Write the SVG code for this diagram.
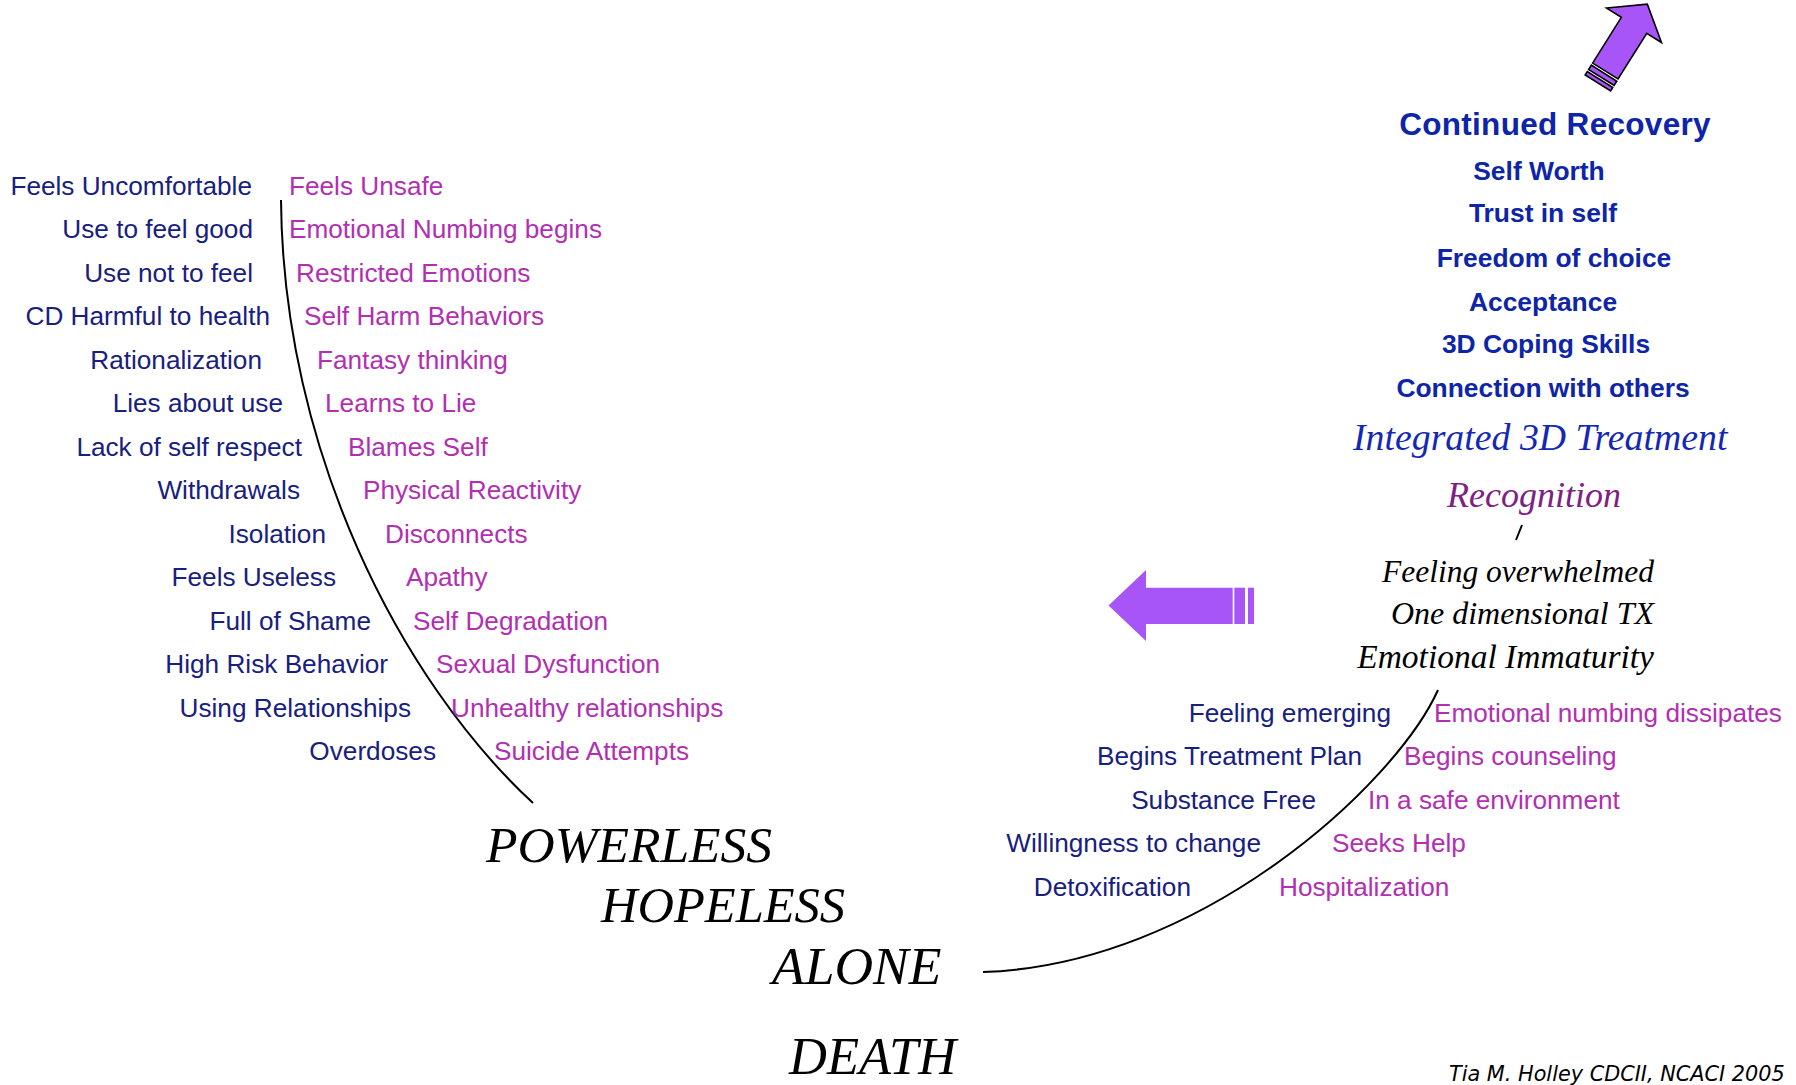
<svg xmlns="http://www.w3.org/2000/svg" width="1796" height="1085" viewBox="0 0 1796 1085">
<style>
.b{font-family:"Liberation Sans",Arial,sans-serif;font-size:26.2px;fill:#18207F;text-anchor:end}
.m{font-family:"Liberation Sans",Arial,sans-serif;font-size:26.2px;fill:#B22FB2}
.h{font-family:"Liberation Sans",Arial,sans-serif;font-weight:bold;font-size:26.4px;fill:#0E25A8;text-anchor:middle}
.s{font-family:"Liberation Serif","Times New Roman",serif;font-style:italic;fill:#000}
.ln{fill:none;stroke:#000;stroke-width:2}
.ar{fill:#A855F7}
.aro{fill:#A855F7;stroke:#000;stroke-width:1.6;stroke-linejoin:miter}
</style>
<rect width="1796" height="1085" fill="#fff"/>
<g id="connectors">
<path class="ln" d="M281,200 C283,450 400,680 533,803"/>
<path class="ln" d="M983,972 C1200,965 1395,785 1438,690"/>
<path class="ln" d="M1522,525 L1516,540"/>
</g>
<g id="arrow-up">
<g transform="translate(1597.9,82.9) rotate(-57.9)">
<rect class="aro" x="0" y="-15" width="4" height="30"/>
<rect class="aro" x="6.5" y="-15" width="5" height="30"/>
<path class="aro" d="M14,-15 L68,-15 L68,-32.4 L93,0 L68,32.4 L68,15 L14,15 Z"/>
</g>
</g>
<g id="arrow-left">
<path class="ar" d="M1108.5,605.5 L1146,570 L1146,587.7 L1232.7,587.7 L1232.7,624 L1146,624 L1146,641 Z"/>
<rect class="ar" x="1234.3" y="587.7" width="10.7" height="36.3"/>
<rect class="ar" x="1248" y="587.7" width="6" height="36.3"/>
</g>
<g id="left-blue">
<text class="b" x="252" y="194.5">Feels Uncomfortable</text>
<text class="b" x="253" y="238">Use to feel good</text>
<text class="b" x="253" y="281.5">Use not to feel</text>
<text class="b" x="270" y="325">CD Harmful to health</text>
<text class="b" x="262" y="368.5">Rationalization</text>
<text class="b" x="283" y="412">Lies about use</text>
<text class="b" x="302" y="455.5">Lack of self respect</text>
<text class="b" x="300" y="499">Withdrawals</text>
<text class="b" x="326" y="542.5">Isolation</text>
<text class="b" x="336" y="586">Feels Useless</text>
<text class="b" x="371" y="629.5">Full of Shame</text>
<text class="b" x="388" y="673">High Risk Behavior</text>
<text class="b" x="411" y="716.5">Using Relationships</text>
<text class="b" x="436" y="760">Overdoses</text>
</g>
<g id="left-magenta">
<text class="m" x="289" y="194.5">Feels Unsafe</text>
<text class="m" x="289" y="238">Emotional Numbing begins</text>
<text class="m" x="296" y="281.5">Restricted Emotions</text>
<text class="m" x="304" y="325">Self Harm Behaviors</text>
<text class="m" x="317" y="368.5">Fantasy thinking</text>
<text class="m" x="325" y="412">Learns to Lie</text>
<text class="m" x="348" y="455.5">Blames Self</text>
<text class="m" x="363" y="499">Physical Reactivity</text>
<text class="m" x="385" y="542.5">Disconnects</text>
<text class="m" x="406" y="586">Apathy</text>
<text class="m" x="413" y="629.5">Self Degradation</text>
<text class="m" x="436" y="673">Sexual Dysfunction</text>
<text class="m" x="451" y="716.5">Unhealthy relationships</text>
<text class="m" x="494" y="760">Suicide Attempts</text>
</g>
<g id="bottom-states">
<text class="s" x="486" y="862" font-size="51.5">POWERLESS</text>
<text class="s" x="601" y="922" font-size="50.5">HOPELESS</text>
<text class="s" x="772" y="984" font-size="53.5">ALONE</text>
<text class="s" x="789" y="1074" font-size="52.5">DEATH</text>
</g>
<g id="recovery-start-blue">
<text class="b" x="1391" y="721.5">Feeling emerging</text>
<text class="b" x="1362" y="765">Begins Treatment Plan</text>
<text class="b" x="1316" y="808.5">Substance Free</text>
<text class="b" x="1261" y="852">Willingness to change</text>
<text class="b" x="1191" y="895.5">Detoxification</text>
</g>
<g id="recovery-start-magenta">
<text class="m" x="1434" y="721.5">Emotional numbing dissipates</text>
<text class="m" x="1404" y="765">Begins counseling</text>
<text class="m" x="1368" y="808.5">In a safe environment</text>
<text class="m" x="1332" y="852">Seeks Help</text>
<text class="m" x="1279" y="895.5">Hospitalization</text>
</g>
<g id="stuck">
<text class="s" x="1654" y="581.5" font-size="31.5" text-anchor="end">Feeling overwhelmed</text>
<text class="s" x="1654" y="624" font-size="32" text-anchor="end">One dimensional TX</text>
<text class="s" x="1654" y="668" font-size="33.5" text-anchor="end">Emotional Immaturity</text>
</g>
<g id="recognition">
<text class="s" x="1447" y="507" font-size="36" style="fill:#7D2183">Recognition</text>
</g>
<g id="treatment">
<text class="s" x="1353" y="450" font-size="37.8" style="fill:#1428B4">Integrated 3D Treatment</text>
</g>
<g id="continued-recovery">
<text class="h" x="1555" y="135" style="font-size:31.5px;letter-spacing:0.3px">Continued Recovery</text>
<text class="h" x="1539" y="180">Self Worth</text>
<text class="h" x="1543" y="222">Trust in self</text>
<text class="h" x="1554" y="266.5">Freedom of choice</text>
<text class="h" x="1543" y="311">Acceptance</text>
<text class="h" x="1546" y="353">3D Coping Skills</text>
<text class="h" x="1543" y="396.5">Connection with others</text>
</g>
<g id="credit">
<text x="1449" y="1081" font-family="'DejaVu Sans',Verdana,sans-serif" font-style="italic" font-size="20.8" fill="#000">Tia M. Holley CDCII, NCACI 2005</text>
</g>
</svg>
